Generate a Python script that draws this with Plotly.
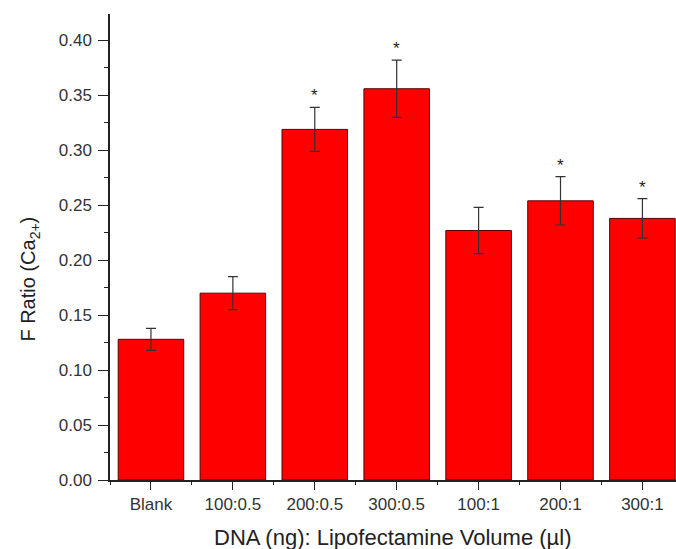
import plotly.graph_objects as go

# Transfection conditions: DNA (ng) : Lipofectamine volume (µl)
categories = ["Blank", "100:0.5", "200:0.5", "300:0.5", "100:1", "200:1", "300:1"]
f_ratio = [0.128, 0.170, 0.319, 0.356, 0.227, 0.254, 0.238]
f_error = [0.010, 0.015, 0.020, 0.026, 0.021, 0.022, 0.018]
significant = [False, False, True, True, False, True, True]

x_title = "DNA (ng): Lipofectamine Volume (\u00b5l)"
y_title = "F Ratio (Ca<sub>2+</sub>)"

positions = list(range(len(categories)))
font_family = "Liberation Sans, Arial, sans-serif"

fig = go.Figure()
fig.add_trace(go.Bar(
    x=positions,
    y=f_ratio,
    width=0.8,
    marker=dict(color="#ff0000", line=dict(color="#5a0000", width=1)),
    error_y=dict(type="data", array=f_error, visible=True,
                 color="#333333", thickness=1.2, width=5),
    showlegend=False,
))

# significance markers above the error bars
for x, y, e, sig in zip(positions, f_ratio, f_error, significant):
    if sig:
        fig.add_annotation(x=x, y=y + e, text="*", showarrow=False,
                           yanchor="bottom", yshift=0,
                           font=dict(family=font_family, size=17, color="#222222"))

# axis titles
fig.add_annotation(xref="paper", yref="paper", x=0.5, y=0, yshift=-57,
                   xanchor="center", yanchor="middle", showarrow=False,
                   text=x_title, font=dict(family=font_family, size=22, color="#222222"))
fig.add_annotation(xref="paper", yref="paper", x=0, y=0.43, xshift=-80,
                   xanchor="center", yanchor="middle", showarrow=False, textangle=-90,
                   text=y_title, font=dict(family=font_family, size=20, color="#222222"))

fig.update_layout(
    width=676, height=549,
    margin=dict(l=110, r=0, t=14, b=69),
    paper_bgcolor="white", plot_bgcolor="white",
    font=dict(family=font_family, color="#222222"),
)
fig.update_xaxes(
    range=[-0.5, 6.41],
    tickmode="array", tickvals=positions, ticktext=categories,
    ticks="outside", ticklen=8, tickwidth=1.2, tickcolor="#222222",
    minor=dict(tickmode="linear", tick0=0.5, dtick=1, ticks="outside",
               ticklen=3, tickwidth=1.2, tickcolor="#222222"),
    showline=True, linecolor="#222222", linewidth=1.5,
    showgrid=False, zeroline=False,
    tickfont=dict(size=17, color="#333333"),
)
fig.update_yaxes(
    range=[0, 0.424],
    tickmode="linear", tick0=0, dtick=0.05, tickformat=".2f",
    ticks="outside", ticklen=10, tickwidth=1.2, tickcolor="#222222",
    minor=dict(tickmode="linear", tick0=0.025, dtick=0.05, ticks="outside",
               ticklen=4, tickwidth=1.2, tickcolor="#222222"),
    showline=True, linecolor="#222222", linewidth=1.5,
    showgrid=False, zeroline=False,
    ticklabelstandoff=3,
    tickfont=dict(size=17, color="#333333"),
)

fig.write_html("out.html")
